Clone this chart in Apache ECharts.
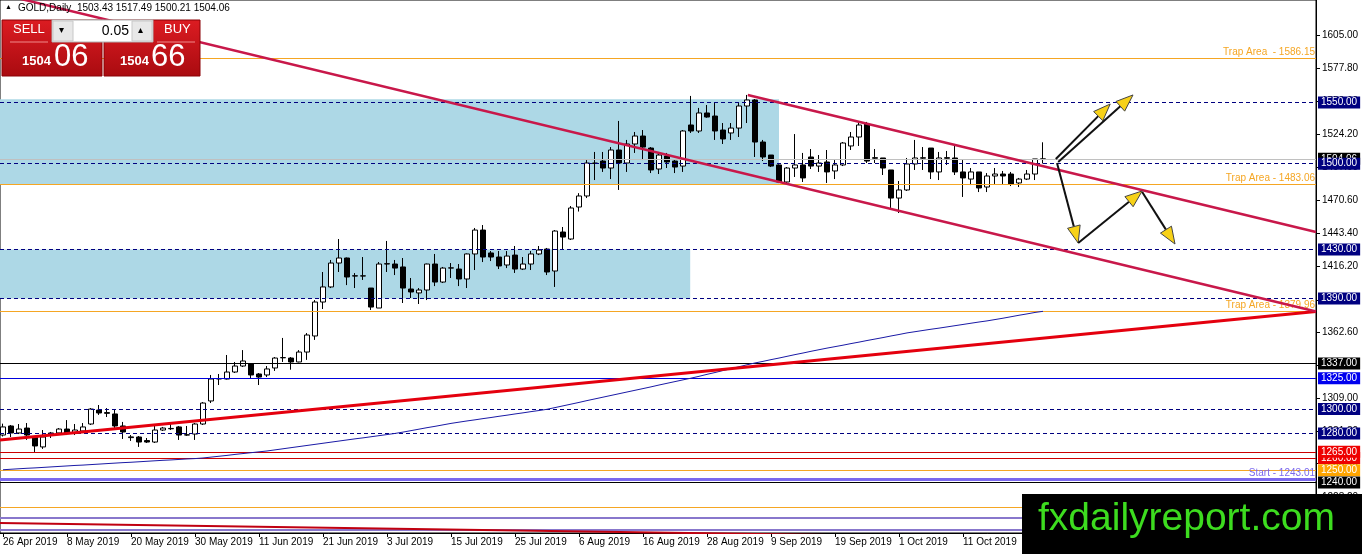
<!DOCTYPE html>
<html><head><meta charset="utf-8">
<script src="https://cdn.jsdelivr.net/npm/echarts@6/dist/echarts.min.js"></script>
<style>html,body{margin:0;padding:0;background:#fff}#c{width:1362px;height:554px}</style>
</head><body><div id="c"></div>
<script>
// ---- data ----
const opens = [1278.7,1286.1,1280.4,1284.4,1277.1,1269.0,1278.7,1280.4,1283.6,1280.4,1282.0,1287.7,1299.1,1297.0,1295.9,1286.1,1277.2,1277.1,1274.2,1273.0,1282.8,1284.1,1285.3,1278.9,1279.5,1287.7,1306.5,1324.4,1324.4,1330.1,1335.0,1336.6,1328.5,1327.7,1333.4,1341.7,1341.5,1338.3,1346.4,1359.5,1387.2,1399.5,1419.0,1423.1,1408.6,1408.4,1398.6,1382.3,1418.2,1418.2,1415.8,1397.8,1394.6,1397.0,1418.2,1403.5,1414.9,1414.1,1406.0,1426.4,1445.9,1427.2,1423.9,1417.4,1425.5,1414.1,1418.2,1426.4,1430.4,1412.5,1444.3,1438.6,1464.7,1473.7,1500.6,1502.2,1496.5,1511.2,1500.6,1516.1,1522.6,1512.8,1495.7,1506.3,1502.2,1498.1,1531.6,1526.7,1541.4,1538.9,1527.5,1525.1,1529.1,1547.1,1552.0,1517.7,1507.1,1499.0,1485.1,1496.5,1499.0,1505.5,1498.1,1501.4,1494.1,1499.0,1514.5,1521.8,1532.4,1504.9,1504.7,1494.9,1472.0,1478.6,1499.8,1504.5,1512.8,1493.3,1504.9,1504.7,1493.3,1487.5,1493.3,1481.0,1490.0,1491.6,1491.6,1484.3,1487.5,1491.6,1503.43];
const highs = [1288.0,1286.9,1287.7,1288.5,1278.0,1282.8,1281.2,1284.4,1290.9,1287.7,1288.5,1300.7,1303.2,1300.7,1299.1,1289.4,1278.7,1277.9,1276.3,1286.1,1285.3,1287.7,1286.1,1286.1,1288.5,1305.6,1327.7,1328.5,1344.0,1338.3,1348.0,1337.4,1329.3,1335.0,1342.3,1357.9,1342.3,1348.0,1361.9,1388.8,1411.7,1421.5,1438.6,1423.5,1410.8,1423.9,1398.6,1419.8,1437.0,1421.5,1423.1,1406.8,1398.6,1418.5,1426.4,1415.8,1419.0,1418.2,1426.8,1447.6,1450.0,1428.8,1428.8,1428.8,1432.9,1423.9,1428.8,1432.9,1431.3,1445.9,1448.4,1465.5,1476.0,1503.0,1509.6,1509.6,1513.6,1534.9,1519.4,1525.9,1527.5,1513.6,1509.6,1508.8,1503.0,1527.5,1555.3,1545.5,1547.9,1549.5,1533.2,1533.2,1549.5,1556.1,1552.8,1519.4,1507.1,1499.5,1497.3,1524.2,1508.8,1512.0,1507.1,1511.2,1503.0,1517.7,1525.9,1534.1,1534.1,1512.0,1504.7,1494.9,1485.9,1504.7,1519.4,1513.6,1512.8,1509.6,1510.4,1516.1,1503.0,1496.5,1493.3,1492.4,1496.5,1494.1,1493.3,1488.4,1494.9,1503.9,1517.49];
const lows = [1277.5,1277.1,1279.5,1274.7,1264.9,1267.4,1276.3,1279.5,1278.7,1278.7,1281.2,1286.9,1295.1,1293.4,1284.4,1275.5,1273.9,1269.0,1272.2,1272.2,1282.0,1282.8,1274.7,1278.0,1274.7,1286.9,1304.8,1319.5,1324.0,1329.3,1334.2,1324.4,1319.5,1326.0,1331.0,1338.3,1332.0,1338.0,1340.0,1356.3,1381.5,1398.6,1411.7,1401.0,1398.6,1405.2,1380.7,1382.3,1411.7,1409.2,1386.4,1390.5,1385.6,1388.8,1400.2,1402.7,1406.8,1400.2,1398.6,1413.3,1419.8,1420.6,1414.1,1414.9,1410.9,1413.3,1413.3,1425.5,1409.2,1399.5,1430.4,1437.8,1461.0,1472.0,1486.7,1493.3,1487.5,1478.6,1493.3,1508.8,1503.0,1492.4,1491.6,1496.5,1492.4,1493.3,1525.1,1525.1,1537.5,1519.4,1516.1,1519.4,1521.8,1533.2,1505.5,1502.2,1497.3,1484.3,1484.3,1489.2,1485.1,1495.7,1493.3,1484.3,1487.5,1498.1,1511.2,1514.5,1500.6,1500.6,1490.8,1463.9,1459.8,1477.8,1494.9,1494.9,1487.5,1486.7,1499.0,1490.8,1472.9,1482.6,1476.9,1476.9,1483.5,1483.5,1481.8,1481.0,1486.7,1486.7,1500.21];
const closes = [1285.3,1280.4,1283.6,1278.7,1269.8,1277.1,1280.4,1283.6,1280.4,1282.8,1285.3,1299.9,1296.7,1296.4,1286.1,1281.2,1276.6,1273.0,1273.0,1282.8,1284.4,1283.8,1278.7,1278.7,1287.7,1304.8,1324.4,1324.8,1330.1,1335.0,1339.1,1327.7,1326.0,1332.6,1341.5,1341.9,1338.3,1346.4,1360.3,1387.2,1399.5,1419.0,1423.1,1407.6,1408.4,1408.6,1383.1,1418.2,1418.5,1414.9,1398.6,1395.4,1397.0,1418.2,1403.5,1414.9,1415.1,1406.0,1426.4,1445.9,1423.9,1423.9,1416.6,1424.7,1414.1,1418.2,1426.4,1429.6,1411.7,1445.1,1440.2,1463.9,1473.7,1500.6,1500.2,1496.5,1511.2,1500.6,1516.1,1522.6,1513.6,1494.9,1507.1,1501.4,1497.3,1526.7,1526.7,1541.4,1538.1,1526.7,1520.2,1529.1,1547.1,1552.0,1517.7,1505.5,1498.1,1485.1,1496.5,1499.0,1488.4,1498.1,1500.6,1493.3,1499.0,1516.9,1521.8,1531.6,1502.2,1504.5,1496.5,1472.0,1478.6,1499.8,1504.7,1504.9,1493.3,1504.7,1504.5,1493.3,1488.4,1493.3,1480.2,1490.0,1491.6,1490.0,1483.5,1487.5,1491.6,1503.9,1504.06];
const maValues = [1250.4,1250.8,1251.2,1251.6,1251.9,1252.3,1252.7,1253.1,1253.5,1253.9,1254.2,1254.6,1255.0,1255.4,1255.8,1256.2,1256.5,1256.9,1257.3,1257.7,1258.1,1258.4,1258.8,1259.2,1259.5,1260.0,1260.7,1261.4,1262.1,1262.9,1263.6,1264.3,1265.0,1265.7,1266.6,1267.5,1268.4,1269.3,1270.2,1271.1,1272.0,1272.9,1273.8,1274.7,1275.6,1276.4,1277.3,1278.2,1279.1,1280.0,1281.1,1282.3,1283.5,1284.7,1285.8,1287.0,1288.2,1289.2,1290.2,1291.1,1292.1,1293.0,1294.0,1294.9,1295.9,1296.8,1297.8,1298.7,1299.7,1301.1,1302.5,1303.9,1305.3,1306.8,1308.2,1309.6,1311.0,1312.4,1313.8,1315.2,1316.6,1318.0,1319.5,1320.9,1322.3,1323.7,1325.1,1326.6,1328.2,1329.7,1331.3,1332.8,1334.4,1336.0,1337.5,1338.8,1340.2,1341.5,1342.9,1344.3,1345.6,1347.0,1348.3,1349.6,1350.8,1352.0,1353.3,1354.5,1355.8,1357.0,1358.2,1359.5,1360.7,1362.0,1363.0,1364.0,1365.0,1365.9,1366.9,1367.9,1368.9,1369.9,1370.9,1371.8,1372.9,1374.0,1375.2,1376.4,1377.5,1378.7,1379.6];

const xTickIndex = [0,8,16,24,32,40,48,56,64,72,80,88,96,104,112,120,128];
const xTickLabels = ['26 Apr 2019','8 May 2019','20 May 2019','30 May 2019','11 Jun 2019','21 Jun 2019','3 Jul 2019','15 Jul 2019','25 Jul 2019','6 Aug 2019','16 Aug 2019','28 Aug 2019','9 Sep 2019','19 Sep 2019','1 Oct 2019','11 Oct 2019','21 Oct 2019'];
const yTickValues = [1605.00,1577.80,1550.60,1524.20,1497.00,1470.60,1443.40,1416.20,1389.00,1362.60,1335.40,1309.00,1281.80,1255.40,1228.20];

const currentPrice = 1504.06;
const askPrice = 1504.66;
const lotSize = '0.05';
const dashedLevels = [1550, 1500, 1430, 1390, 1300, 1280];
const trapAreas = [1586.15, 1483.06, 1379.96];
const trapNames = ['Trap Area  - ', 'Trap Area - ', 'Trap Area - '];
const blackLevels = [1337, 1240];
const blueLevels = [1325];
const redLevels = [1260, 1265];
const orangeLevels = [1250];
const startLevel = 1243.01;
const bottomLines = [1220.0, 1211.6, 1201.7];
const zones = [[1483.06, 1552.5, 97], [1390, 1430, 85.9]];
const longTrend = [[-0.375, 1638.5], [164.125, 1379.5]];
const channelTop = [[93.1, 1556.1], [164.125, 1444.3]];
const upTrend = [[-0.375, 1274.7], [164.125, 1379.5]];
const lowTrend = [[-0.375, 1207.0], [110, 1196.5]];
const arrows = [[131.6,1503.9,138.4,1548.7],[131.9,1501.4,141.25,1556.1],[131.75,1500.6,134.4,1435.3],[134.4,1435.3,142.4,1477.8],[142.4,1477.0,146.5,1434.5]];

// ---- chart ----
const FONT = 'Liberation Sans';
const X_MIN = -0.375, X_MAX = 164.125, Y_MIN = 1198.8, Y_MAX = 1633.55;
const chart = echarts.init(document.getElementById('c'), null, {renderer: 'canvas'});

const candleData = opens.map((o, i) => [i, o, closes[i], lows[i], highs[i]]);
const maData = maValues.map((v, i) => [i, v]);

const NAVY = '#000080', ORANGE = '#f5a623', PURPLE = '#7b68ee';
function boxLabel(v, bg) {
  return {show: true, position: 'end', distance: 2, formatter: v.toFixed(2), color: '#fff',
    backgroundColor: bg, padding: [1, 3, 0, 3], lineHeight: 11, fontSize: 10, fontFamily: FONT};
}
function topLabel(text, color) {
  return {show: true, position: 'insideEndTop', distance: 1, formatter: text, color: color, fontSize: 10, fontFamily: FONT};
}
const levelData = [];
levelData.push({yAxis: currentPrice, lineStyle: {color: '#c0c0c0', type: 'solid', width: 1}, label: boxLabel(currentPrice, '#000')});
bottomLines.forEach((v, k) => levelData.push({yAxis: v, lineStyle: {color: k === 0 ? ORANGE : '#8877cc', type: 'solid', width: k === 0 ? 1 : 2}, label: {show: false}}));
trapAreas.forEach((v, k) => levelData.push({yAxis: v, lineStyle: {color: ORANGE, type: 'solid', width: 1}, label: topLabel(trapNames[k] + v.toFixed(2), ORANGE)}));
levelData.push({yAxis: startLevel, lineStyle: {color: PURPLE, type: 'solid', width: 3}, label: topLabel('Start - ' + startLevel.toFixed(2), PURPLE)});
orangeLevels.forEach(v => levelData.push({yAxis: v, lineStyle: {color: ORANGE, type: 'solid', width: 1}, label: boxLabel(v, '#ffa500')}));
redLevels.forEach(v => levelData.push({yAxis: v, lineStyle: {color: '#cc0000', type: 'solid', width: 1}, label: boxLabel(v, '#ee0000')}));
blueLevels.forEach(v => levelData.push({yAxis: v, lineStyle: {color: '#0000dd', type: 'solid', width: 1}, label: boxLabel(v, '#0000ee')}));
blackLevels.forEach(v => levelData.push({yAxis: v, lineStyle: {color: '#000', type: 'solid', width: 1}, label: boxLabel(v, '#000')}));
dashedLevels.forEach(v => levelData.push({yAxis: v, lineStyle: {color: NAVY, type: [4, 3], width: 1}, label: boxLabel(v, NAVY)}));

function trendSeries(pts, color, width, z) {
  return {type: 'line', data: pts, symbol: 'none', silent: true, z: z, lineStyle: {color: color, width: width}, clip: true};
}

function renderArrow(params, api) {
  const p1 = api.coord([api.value(0), api.value(1)]);
  const p2 = api.coord([api.value(2), api.value(3)]);
  const dx = p2[0] - p1[0], dy = p2[1] - p1[1];
  const len = Math.sqrt(dx * dx + dy * dy);
  const ux = dx / len, uy = dy / len;
  const hl = 17, hw = 6.5;
  const bx = p2[0] - ux * hl, by = p2[1] - uy * hl;
  return {type: 'group', children: [
    {type: 'line', shape: {x1: p1[0], y1: p1[1], x2: bx, y2: by}, style: {stroke: '#111', lineWidth: 2}},
    {type: 'polygon', shape: {points: [[p2[0], p2[1]], [bx - uy * hw, by + ux * hw], [bx + uy * hw, by - ux * hw]]},
      style: {fill: '#f7d117', stroke: '#444', lineWidth: 1}}
  ]};
}

const option = {
  animation: false,
  backgroundColor: '#fff',
  grid: {left: 0, right: 46, top: 0, bottom: 21, show: true, borderColor: '#000', borderWidth: 1, backgroundColor: '#fff'},
  xAxis: {
    type: 'value', min: X_MIN, max: X_MAX, splitLine: {show: false},
    axisLine: {show: true, onZero: false, lineStyle: {color: '#000', width: 1}},
    axisTick: {show: true, customValues: xTickIndex, length: 4, lineStyle: {color: '#000'}},
    axisLabel: {show: true, customValues: xTickIndex, align: 'left', margin: 4, fontSize: 10, fontFamily: FONT, color: '#000',
      formatter: v => { const k = xTickIndex.indexOf(Math.round(v)); return k >= 0 ? xTickLabels[k] : ''; }}
  },
  yAxis: {
    type: 'value', position: 'right', min: Y_MIN, max: Y_MAX, splitLine: {show: false}, scale: true,
    axisLine: {show: true, onZero: false, lineStyle: {color: '#000', width: 1}},
    axisTick: {show: true, customValues: yTickValues, length: 4, lineStyle: {color: '#000'}},
    axisLabel: {show: true, customValues: yTickValues, margin: 6, fontSize: 10, fontFamily: FONT, color: '#000',
      formatter: v => v.toFixed(2)}
  },
  series: [
    {type: 'line', data: [], z: 1, silent: true,
      markArea: {silent: true, itemStyle: {color: '#add8e6'},
        data: zones.map(z => [{xAxis: X_MIN, yAxis: z[0]}, {xAxis: z[2], yAxis: z[1]}])}},
    {type: 'candlestick', z: 3, data: candleData, barWidth: 5, silent: true,
      dimensions: ['idx', 'open', 'close', 'lowest', 'highest'],
      encode: {x: 0, y: [1, 2, 3, 4]},
      itemStyle: {color: '#ffffff', color0: '#000000', borderColor: '#000', borderColor0: '#000', borderWidth: 1}},
    {type: 'line', data: [], z: 4, silent: true, clip: false,
      markLine: {silent: true, symbol: ['none', 'none'], animation: false, data: levelData, emphasis: {disabled: true}}},
    {type: 'line', data: maData, symbol: 'none', silent: true, z: 5, lineStyle: {color: '#1a1aa6', width: 1}},
    trendSeries(lowTrend, '#c00010', 2, 5),
    trendSeries(upTrend, '#e4000e', 3, 6),
    trendSeries(longTrend, '#c8184a', 2.5, 6),
    trendSeries(channelTop, '#c8184a', 2.5, 6),
    {type: 'custom', z: 7, silent: true, data: arrows, renderItem: renderArrow,
      dimensions: ['x1', 'y1', 'x2', 'y2'], encode: {x: [0, 2], y: [1, 3]}}
  ],
  graphic: [
    {type: 'text', z: 100, left: 5, top: 4, style: {text: '\u25B2', font: '7px ' + FONT, fill: '#000'}},
    {type: 'text', z: 100, left: 18, top: 3, style: {text: 'GOLD,Daily  ' + opens[opens.length - 1].toFixed(2) + ' ' + highs[highs.length - 1].toFixed(2) + ' ' + lows[lows.length - 1].toFixed(2) + ' ' + closes[closes.length - 1].toFixed(2), font: '10px ' + FONT, fill: '#000'}},
    // SELL panel
    {type: 'rect', z: 100, shape: {x: 2, y: 20, width: 100, height: 56},
      style: {fill: {type: 'linear', x: 0, y: 0, x2: 0, y2: 1, colorStops: [{offset: 0, color: '#dc1c22'}, {offset: 1, color: '#a90b10'}]}, stroke: '#8c0306', lineWidth: 1}},
    {type: 'rect', z: 100, shape: {x: 104, y: 20, width: 96, height: 56},
      style: {fill: {type: 'linear', x: 0, y: 0, x2: 0, y2: 1, colorStops: [{offset: 0, color: '#dc1c22'}, {offset: 1, color: '#a90b10'}]}, stroke: '#8c0306', lineWidth: 1}},
    {type: 'line', z: 101, shape: {x1: 10, y1: 42, x2: 48, y2: 42}, style: {stroke: '#f08a8a', lineWidth: 1}},
    {type: 'line', z: 101, shape: {x1: 157, y1: 42, x2: 195, y2: 42}, style: {stroke: '#f08a8a', lineWidth: 1}},
    {type: 'text', z: 101, left: 13, top: 23, style: {text: 'SELL', font: '13px ' + FONT, fill: '#fff'}},
    {type: 'text', z: 101, left: 164, top: 23, style: {text: 'BUY', font: '13px ' + FONT, fill: '#fff'}},
    {type: 'rect', z: 101, shape: {x: 52, y: 20, width: 101, height: 22}, style: {fill: '#fff', stroke: '#b0b0b0', lineWidth: 1}},
    {type: 'rect', z: 102, shape: {x: 53, y: 21, width: 20, height: 20}, style: {fill: '#e8e8e8', stroke: '#c8c8c8', lineWidth: 1}},
    {type: 'rect', z: 102, shape: {x: 132, y: 21, width: 20, height: 20}, style: {fill: '#e8e8e8', stroke: '#c8c8c8', lineWidth: 1}},
    {type: 'text', z: 103, left: 59, top: 25, style: {text: '\u25BE', font: '10px ' + FONT, fill: '#000'}},
    {type: 'text', z: 103, left: 138, top: 25, style: {text: '\u25B4', font: '10px ' + FONT, fill: '#000'}},
    {type: 'text', z: 103, right: 1362 - 129, top: 24, style: {text: lotSize, font: '14px ' + FONT, fill: '#000', align: 'right'}},
    {type: 'text', z: 101, left: 22, top: 55, style: {text: Math.floor(currentPrice).toString(), font: 'bold 13px ' + FONT, fill: '#fff'}},
    {type: 'text', z: 101, left: 54, top: 42, style: {text: currentPrice.toFixed(2).split('.')[1], font: '31px ' + FONT, fill: '#fff'}},
    {type: 'text', z: 101, left: 120, top: 55, style: {text: Math.floor(askPrice).toString(), font: 'bold 13px ' + FONT, fill: '#fff'}},
    {type: 'text', z: 101, left: 151, top: 42, style: {text: askPrice.toFixed(2).split('.')[1], font: '31px ' + FONT, fill: '#fff'}},
    // watermark
    {type: 'rect', z: 110, shape: {x: 1022, y: 494, width: 340, height: 60}, style: {fill: '#000'}},
    {type: 'text', z: 111, x: 1038, y: 519, style: {text: 'fxdailyreport.com', font: '39px ' + FONT, fill: '#3ddc1f', verticalAlign: 'middle', textVerticalAlign: 'middle'}}
  ]
};
chart.setOption(option);
</script></body></html>
